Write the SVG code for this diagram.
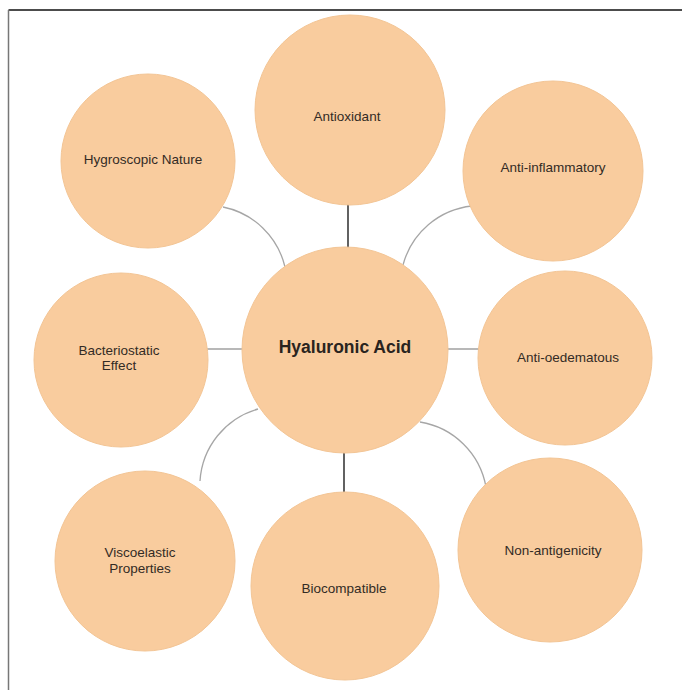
<svg xmlns="http://www.w3.org/2000/svg" width="686" height="690" viewBox="0 0 686 690">
<style>
.n{fill:#F9CC9E;stroke:#F3C595;stroke-width:1}
.t{font-family:"Liberation Sans",Arial,sans-serif;font-size:13.5px;fill:#332b25;text-anchor:middle}
.c{font-family:"Liberation Sans",Arial,sans-serif;font-size:17.5px;font-weight:bold;fill:#2a2420;text-anchor:middle}
.arc{fill:none;stroke:#a6a6a6;stroke-width:1.3}
.hz{fill:none;stroke:#a0a0a0;stroke-width:1.5}
.vt{fill:none;stroke:#3a3a3a;stroke-width:1.6}
</style>
<rect width="686" height="690" fill="#ffffff"/>
<line x1="8.5" y1="10" x2="682" y2="10" stroke="#111" stroke-width="1.5"/>
<line x1="8.5" y1="10" x2="8.5" y2="690" stroke="#777" stroke-width="1.5"/>
<g id="connectors">
<line class="vt" x1="348" y1="204" x2="348" y2="248"/>
<line class="vt" x1="344" y1="452" x2="344" y2="493"/>
<line class="hz" x1="207" y1="349" x2="243" y2="349"/>
<line class="hz" x1="447" y1="349" x2="479" y2="349"/>
<path class="arc" d="M223,207 A80 80 0 0 1 285,267"/>
<path class="arc" d="M403,265 A80 80 0 0 1 472,206"/>
<path class="arc" d="M258,409 A80 80 0 0 0 200,481"/>
<path class="arc" d="M420,422 A80 80 0 0 1 486,487"/>
</g>
<g id="hygroscopic"><circle class="n" cx="148" cy="161" r="87"/><text class="t" x="143" y="164">Hygroscopic Nature</text></g>
<g id="antioxidant"><circle class="n" cx="350" cy="110" r="95"/><text class="t" x="347" y="121">Antioxidant</text></g>
<g id="antiinflammatory"><circle class="n" cx="553" cy="171" r="90"/><text class="t" x="553" y="172">Anti-inflammatory</text></g>
<g id="bacteriostatic"><circle class="n" cx="121" cy="360" r="87"/><text class="t" x="119" y="355">Bacteriostatic</text><text class="t" x="119" y="370">Effect</text></g>
<g id="antioedematous"><circle class="n" cx="565" cy="358" r="87"/><text class="t" x="568" y="362">Anti-oedematous</text></g>
<g id="viscoelastic"><circle class="n" cx="145" cy="561" r="90"/><text class="t" x="140" y="557">Viscoelastic</text><text class="t" x="140" y="573">Properties</text></g>
<g id="biocompatible"><circle class="n" cx="345" cy="586" r="94"/><text class="t" x="344" y="593">Biocompatible</text></g>
<g id="nonantigenicity"><circle class="n" cx="550" cy="550" r="92"/><text class="t" x="553" y="555">Non-antigenicity</text></g>
<g id="hyaluronic"><circle class="n" cx="345" cy="350" r="103"/><text class="c" x="345" y="353">Hyaluronic Acid</text></g>
</svg>
